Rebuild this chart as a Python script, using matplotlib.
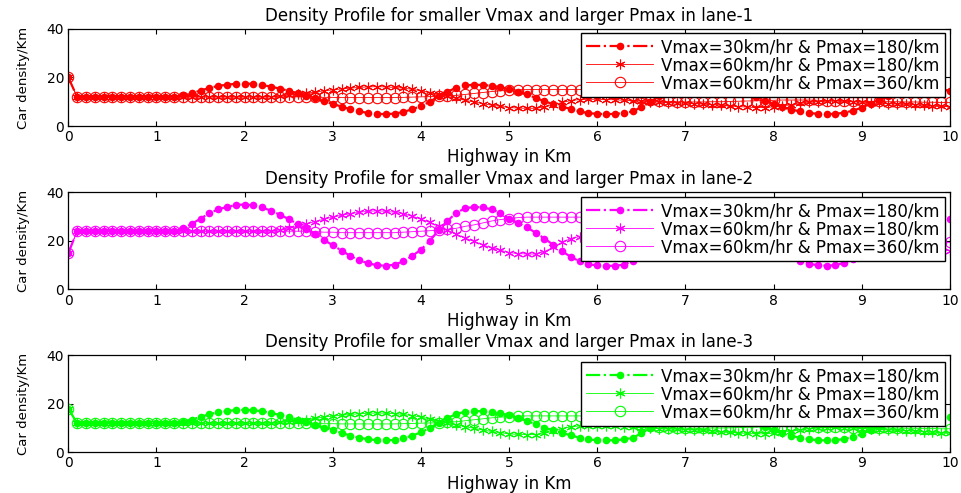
import numpy as np
import matplotlib
matplotlib.use('Agg')
import matplotlib.pyplot as plt

# Distance along the highway, one sample every 0.1 km
distance_km = np.round(np.arange(101) * 0.1, 1)

# Lane-1 densities (cars/km)
lane1_v30_p180 = [
    20.0, 12.0, 12.0, 12.0, 12.0, 12.0, 12.0, 12.0, 12.0, 12.0,
    12.0, 12.0, 12.0, 12.6, 13.5, 14.6, 15.7, 16.5, 17.0, 17.4,
    17.5, 17.3, 16.9, 16.2, 15.4, 14.5, 13.5, 12.4, 11.4, 10.2,
    9.1, 8.0, 6.9, 6.0, 5.4, 5.0, 4.9, 5.1, 5.8, 6.9,
    8.2, 10.0, 12.2, 14.1, 15.8, 16.7, 17.0, 16.9, 16.6, 16.0,
    15.2, 14.2, 13.0, 11.6, 10.2, 9.0, 8.0, 7.0, 6.0, 5.3,
    5.0, 4.9, 5.0, 5.3, 6.0, 7.8, 10.0, 12.2, 14.0, 15.4,
    16.3, 16.9, 17.1, 17.0, 16.6, 15.9, 14.8, 13.5, 12.0, 10.4,
    9.0, 7.8, 6.8, 6.0, 5.4, 5.0, 4.9, 5.0, 5.5, 6.3,
    7.6, 9.2, 10.8, 12.2, 13.4, 14.3, 14.9, 15.3, 15.4, 15.1,
    14.5]
lane1_v60_p180 = [
    20.0, 12.0, 12.0, 12.0, 12.0, 12.0, 12.0, 12.0, 12.0, 12.0,
    12.0, 12.0, 12.0, 12.0, 12.0, 12.0, 12.0, 12.0, 12.0, 12.0,
    12.0, 12.0, 12.0, 12.1, 12.3, 12.6, 13.0, 13.5, 14.0, 14.5,
    14.9, 15.3, 15.6, 15.9, 16.1, 16.2, 16.1, 15.9, 15.6, 15.1,
    14.5, 13.8, 13.0, 12.2, 11.4, 10.6, 9.9, 9.2, 8.6, 8.1,
    7.6, 7.4, 7.3, 7.3, 7.8, 8.7, 9.7, 10.5, 10.9, 11.0,
    11.0, 10.9, 10.8, 10.6, 10.4, 10.2, 10.0, 9.8, 9.6, 9.5,
    9.4, 9.2, 9.0, 8.8, 8.5, 8.3, 8.0, 7.8, 7.6, 7.6,
    7.9, 8.3, 8.8, 9.3, 9.7, 10.0, 10.2, 10.3, 10.2, 10.0,
    9.8, 9.6, 9.4, 9.2, 9.0, 8.9, 8.7, 8.5, 8.3, 8.1,
    8.0]
lane1_v60_p360 = [
    20.0, 12.0, 12.0, 12.0, 12.0, 12.0, 12.0, 12.0, 12.0, 12.0,
    12.0, 12.0, 12.0, 12.0, 12.0, 12.0, 12.0, 12.0, 12.0, 12.0,
    12.0, 12.0, 12.0, 12.0, 12.0, 12.0, 12.0, 12.0, 11.9, 11.8,
    11.8, 11.7, 11.7, 11.7, 11.7, 11.7, 11.7, 11.7, 11.8, 11.9,
    12.0, 12.1, 12.2, 12.4, 12.6, 13.0, 13.4, 13.8, 14.2, 14.5,
    14.7, 14.9, 15.0, 15.0, 15.0, 15.0, 15.0, 15.0, 15.0, 14.9,
    14.7, 14.3, 13.7, 13.0, 12.2, 11.4, 10.8, 10.4, 10.1, 10.0,
    9.9, 9.9, 9.9, 10.0, 10.0, 10.1, 10.2, 10.3, 10.4, 10.5,
    10.6, 10.7, 10.7, 10.7, 10.7, 10.6, 10.5, 10.4, 10.3, 10.2,
    10.2, 10.1, 10.1, 10.0, 10.0, 9.9, 9.9, 9.8, 9.8, 9.7,
    9.7]

# Lane-2 densities (cars/km)
lane2_v30_p180 = [
    15.0, 24.0, 24.0, 24.0, 24.0, 24.0, 24.0, 24.0, 24.0, 24.0,
    24.0, 24.0, 24.0, 25.2, 27.0, 29.2, 31.4, 33.0, 34.0, 34.8,
    35.0, 34.6, 33.8, 32.4, 30.8, 29.0, 27.0, 24.8, 22.8, 20.4,
    18.2, 16.0, 13.8, 12.0, 10.8, 10.0, 9.8, 10.2, 11.6, 13.8,
    16.4, 20.0, 24.4, 28.2, 31.6, 33.4, 34.0, 33.8, 33.0, 31.6,
    29.0, 27.4, 25.6, 23.4, 21.0, 18.4, 15.8, 13.4, 11.6, 10.4,
    9.9, 9.7, 9.8, 10.2, 11.6, 15.0, 19.6, 24.0, 27.8, 30.6,
    32.4, 33.6, 34.0, 33.8, 33.0, 31.6, 29.4, 26.8, 23.8, 20.6,
    17.8, 15.4, 13.4, 11.8, 10.6, 10.0, 9.8, 10.0, 11.0, 12.6,
    15.2, 18.4, 21.6, 24.4, 26.8, 28.6, 29.8, 30.6, 30.8, 30.2,
    29.2]
lane2_v60_p180 = [
    15.0, 24.0, 24.0, 24.0, 24.0, 24.0, 24.0, 24.0, 24.0, 24.0,
    24.0, 24.0, 24.0, 24.0, 24.0, 24.0, 24.0, 24.0, 24.0, 24.0,
    24.0, 24.0, 24.0, 24.2, 24.6, 25.2, 26.0, 27.0, 28.0, 29.0,
    29.8, 30.6, 31.2, 31.8, 32.2, 32.4, 32.2, 31.8, 31.2, 30.2,
    29.0, 27.6, 26.0, 24.4, 22.8, 21.2, 19.8, 18.4, 17.2, 16.2,
    15.2, 14.8, 14.6, 14.6, 15.6, 17.4, 19.4, 21.0, 21.8, 22.0,
    22.0, 21.8, 21.6, 21.2, 20.8, 20.4, 20.0, 19.6, 19.2, 19.0,
    18.8, 18.4, 18.0, 17.6, 17.0, 16.6, 16.0, 15.6, 15.2, 15.2,
    15.8, 16.6, 17.6, 18.6, 19.4, 20.0, 20.4, 20.6, 20.4, 20.0,
    19.6, 19.2, 18.8, 18.4, 18.0, 17.8, 17.4, 17.0, 16.6, 16.2,
    16.0]
lane2_v60_p360 = [
    15.0, 24.0, 24.0, 24.0, 24.0, 24.0, 24.0, 24.0, 24.0, 24.0,
    24.0, 24.0, 24.0, 24.0, 24.0, 24.0, 24.0, 24.0, 24.0, 24.0,
    24.0, 24.0, 24.0, 24.0, 24.0, 24.0, 24.0, 24.0, 23.8, 23.6,
    23.6, 23.4, 23.4, 23.4, 23.4, 23.4, 23.4, 23.4, 23.6, 23.8,
    24.0, 24.2, 24.4, 24.8, 25.2, 26.0, 26.6, 27.4, 28.2, 28.8,
    29.2, 29.6, 29.8, 29.8, 29.8, 29.8, 29.8, 29.8, 29.8, 29.6,
    29.2, 28.4, 27.2, 26.0, 24.4, 22.8, 21.6, 20.8, 20.2, 20.0,
    19.8, 19.8, 19.8, 20.0, 20.0, 20.2, 20.4, 20.6, 20.8, 21.0,
    21.2, 21.4, 21.4, 21.4, 21.4, 21.2, 21.0, 20.8, 20.6, 20.4,
    20.4, 20.2, 20.2, 20.0, 20.0, 19.8, 19.8, 19.6, 19.6, 19.4,
    19.4]

# Lane-3 follows lane-1 except for the starting density
lane3_v30_p180 = [18.0] + lane1_v30_p180[1:]
lane3_v60_p180 = [18.0] + lane1_v60_p180[1:]
lane3_v60_p360 = [18.0] + lane1_v60_p360[1:]

lanes = [
    (lane1_v30_p180, lane1_v60_p180, lane1_v60_p360),
    (lane2_v30_p180, lane2_v60_p180, lane2_v60_p360),
    (lane3_v30_p180, lane3_v60_p180, lane3_v60_p360),
]
lane_names = ['lane-1', 'lane-2', 'lane-3']
lane_colors = ['#ff0000', '#ff00ff', '#00ff00']
series_labels = ['Vmax=30km/hr & Pmax=180/km',
                 'Vmax=60km/hr & Pmax=180/km',
                 'Vmax=60km/hr & Pmax=360/km']
x_ticks = list(range(11))
y_ticks = [0, 20, 40]

plt.rcParams['font.family'] = ['DejaVu Sans']

fig = plt.figure(figsize=(9.62, 4.93), dpi=100)
fig.patch.set_facecolor('white')

left, width, height = 0.0710, 0.9165, 0.197
bottoms = [0.7444, 0.4128, 0.0825]
legend_tops = [0.955, 0.95, 0.93]

for lane_idx, (series, name, color) in enumerate(zip(lanes, lane_names, lane_colors)):
    ax = fig.add_axes([left, bottoms[lane_idx], width, height])
    s30, s60, s60b = series
    ax.plot(distance_km, s30, linestyle='-.', color=color, linewidth=1.6,
            marker='o', markersize=5.5, markeredgewidth=0, label=series_labels[0])
    ax.plot(distance_km, s60, linestyle='-', color=color, linewidth=0.6,
            marker=(6, 2, 0), markersize=7, markeredgewidth=0.8,
            label=series_labels[1])
    ax.plot(distance_km, s60b, linestyle='-', color=color, linewidth=0.6,
            marker='o', markersize=7.5, markerfacecolor='none',
            markeredgewidth=0.8, label=series_labels[2])

    ax.set_xlim(0, 10)
    ax.set_ylim(0, 40)
    ax.set_xticks(x_ticks)
    ax.set_yticks(y_ticks)
    ax.tick_params(direction='in', length=3.5, width=0.8, top=True, right=True,
                   labelsize=10, pad=3)
    for spine in ax.spines.values():
        spine.set_linewidth(0.9)

    ax.set_title('Density Profile for smaller Vmax and larger Pmax in ' + name,
                 fontsize=12, pad=6)
    ax.set_xlabel('Highway in Km', fontsize=12, labelpad=3)
    ax.set_ylabel('Car density/Km', fontsize=9.5, labelpad=12)

    leg = ax.legend(loc='upper right', bbox_to_anchor=(0.994, legend_tops[lane_idx]),
                    fontsize=12, frameon=True, fancybox=False, framealpha=1,
                    edgecolor='black', handlelength=4.0, handletextpad=0.5,
                    labelspacing=0.0, borderpad=0.3, borderaxespad=0)
    leg.get_frame().set_linewidth(1.0)

fig.savefig('out.png', dpi=100)
